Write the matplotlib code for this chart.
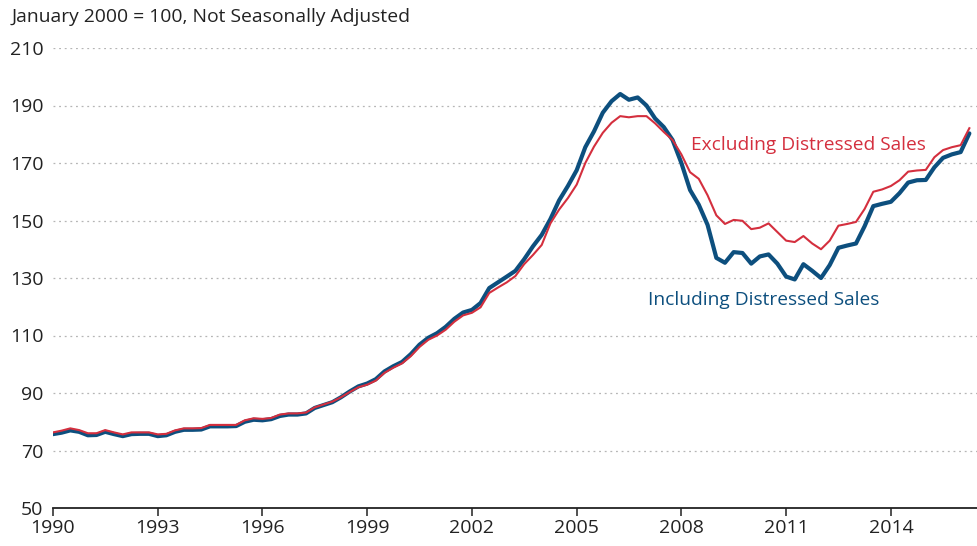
import pandas as pd
import matplotlib.pyplot as plt
import matplotlib.dates as mdates
from datetime import datetime

# quarterly index values (Jan 2000 = 100), 1990 Q1 .. 2016 Q2
excl_distressed = [
    76.3, 76.9, 77.7, 77.1,   # 1990
    76.0, 76.0, 77.1, 76.3,   # 1991
    75.6, 76.3, 76.3, 76.3,   # 1992
    75.6, 75.8, 77.0, 77.7,   # 1993
    77.7, 77.8, 78.9, 78.9,   # 1994
    78.9, 78.9, 80.5, 81.2,   # 1995
    81.0, 81.3, 82.5, 82.9,   # 1996
    82.9, 83.2, 85.0, 86.0,   # 1997
    87.0, 88.5, 90.3, 92.0,   # 1998
    92.9, 94.3, 97.0, 98.8,   # 1999
    100.3, 102.8, 106.0, 108.5,   # 2000
    110.0, 112.0, 114.8, 117.0,   # 2001
    117.9, 119.8, 124.8, 126.7,   # 2002
    128.5, 130.7, 134.8, 138.0,   # 2003
    141.5, 149.0, 153.8, 157.8,   # 2004
    162.5, 170.0, 175.7, 180.5,   # 2005
    184.0, 186.3, 185.9, 186.3,   # 2006
    186.3, 183.8, 180.8, 178.0,   # 2007
    173.0, 166.8, 164.5, 158.8,   # 2008
    151.8, 148.8, 150.2, 149.9,   # 2009
    147.0, 147.5, 149.0, 146.0,   # 2010
    143.0, 142.5, 144.6, 142.0,   # 2011
    140.0, 143.0, 148.2, 148.8,   # 2012
    149.5, 154.0, 160.0, 160.8,   # 2013
    162.0, 164.0, 167.0, 167.4,   # 2014
    167.6, 172.0, 174.5, 175.5,   # 2015
    176.2, 182.1,                 # 2016
]

incl_distressed = [
    75.7, 76.2, 77.0, 76.5,   # 1990
    75.3, 75.4, 76.5, 75.7,   # 1991
    75.0, 75.7, 75.8, 75.8,   # 1992
    75.0, 75.3, 76.5, 77.2,   # 1993
    77.2, 77.3, 78.4, 78.4,   # 1994
    78.4, 78.5, 80.0, 80.7,   # 1995
    80.5, 80.9, 82.0, 82.5,   # 1996
    82.5, 82.9, 84.8, 85.8,   # 1997
    86.8, 88.5, 90.5, 92.3,   # 1998
    93.3, 94.8, 97.5, 99.3,   # 1999
    100.8, 103.5, 106.8, 109.2,   # 2000
    110.8, 113.0, 115.8, 118.0,   # 2001
    118.9, 121.3, 126.5, 128.5,   # 2002
    130.5, 132.5, 136.5, 141.0,   # 2003
    145.0, 150.5, 157.0, 162.0,   # 2004
    167.5, 175.5, 181.0, 187.5,   # 2005
    191.5, 194.0, 192.0, 192.8,   # 2006
    190.0, 185.5, 182.5, 178.0,   # 2007
    170.0, 160.6, 155.5, 148.5,   # 2008
    137.0, 135.3, 139.0, 138.7,   # 2009
    135.0, 137.5, 138.2, 135.0,   # 2010
    130.5, 129.5, 134.8, 132.5,   # 2011
    130.0, 134.5, 140.5, 141.3,   # 2012
    142.0, 148.0, 155.0, 155.8,   # 2013
    156.5, 159.5, 163.2, 164.0,   # 2014
    164.1, 168.5, 171.8, 173.0,   # 2015
    173.8, 180.3,                 # 2016
]

tick_years = [1990, 1993, 1996, 1999, 2002, 2005, 2008, 2011, 2014]
y_ticks = [50, 70, 90, 110, 130, 150, 170, 190, 210]

dates = pd.date_range('1990-01-01', periods=len(excl_distressed), freq='QS')

blue = '#0d4f7e'
red = '#d42f3e'
plt.rcParams['font.family'] = ['Open Sans', 'DejaVu Sans']

fig = plt.figure(figsize=(9.77, 5.46), dpi=100)
ax = fig.add_axes([53/977, 1 - 508/546, 1 - 53/977, (508 - 48)/546])

#lines
ax.plot(dates, incl_distressed, color=blue, lw=3.0, solid_capstyle='round',
        solid_joinstyle='round', zorder=3)
ax.plot(dates, excl_distressed, color=red, lw=1.5, solid_joinstyle='round', zorder=4)

ax.set_ylim(50, 210)
ax.set_xlim(datetime(1990, 1, 1), datetime(2016, 6, 20))
ax.set_yticks(y_ticks)
ax.set_xticks([datetime(y, 1, 1) for y in tick_years])
ax.xaxis.set_major_formatter(mdates.DateFormatter('%Y'))

#dotted grid
for v in y_ticks[1:]:
    ax.axhline(v, color='#b5b5b5', lw=0.9, ls=(0, (1.5, 3)), zorder=1)

for s in ['top', 'right', 'left']:
    ax.spines[s].set_visible(False)
ax.spines['bottom'].set_color('#222222')
ax.spines['bottom'].set_linewidth(1.3)
ax.tick_params(axis='y', length=0, pad=7, labelsize=14, colors='#222222')
ax.tick_params(axis='x', length=6, width=1.1, pad=2, labelsize=14, colors='#222222')

#labels
ax.text(datetime(2008, 4, 15), 176.3, 'Excluding Distressed Sales', color=red,
        fontsize=13.8, va='center', ha='left')
ax.text(datetime(2007, 1, 20), 122.3, 'Including Distressed Sales', color=blue,
        fontsize=13.8, va='center', ha='left')

fig.text(12/977, 1 - 17/546, 'January 2000 = 100, Not Seasonally Adjusted',
         fontsize=13.9, color='#222222', va='center', ha='left')

fig.savefig('out.png', dpi=100)
